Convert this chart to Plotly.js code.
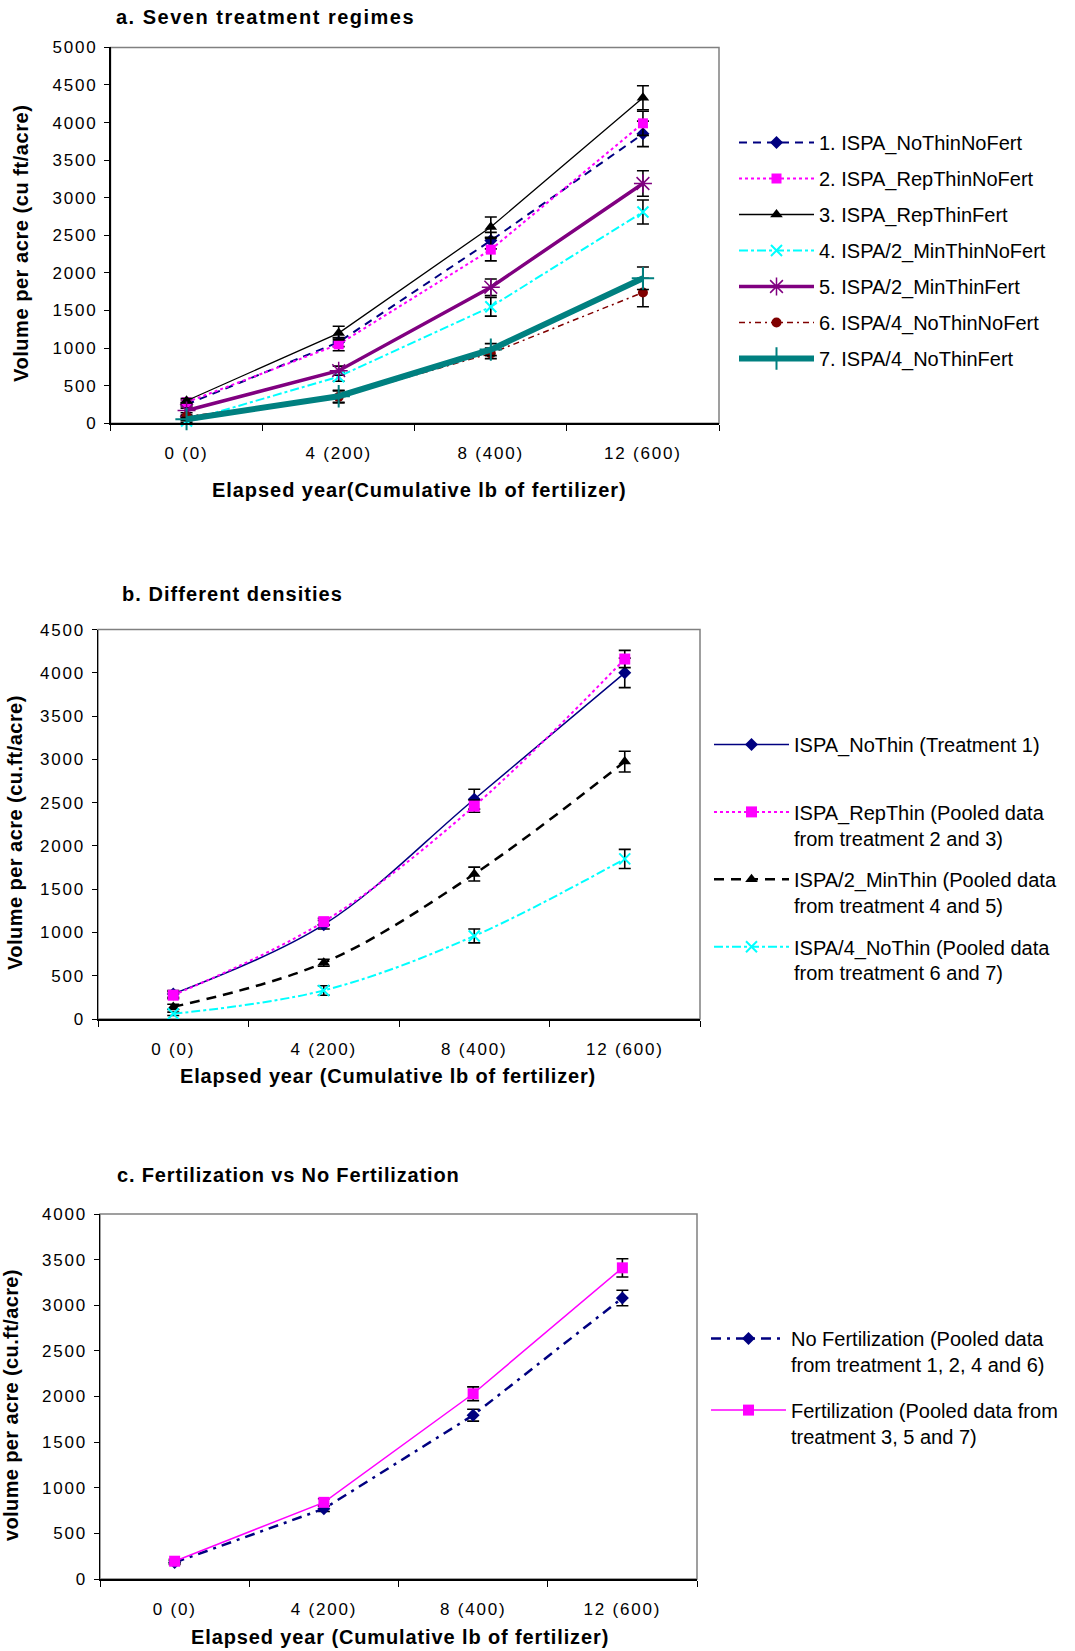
<!DOCTYPE html>
<html><head><meta charset="utf-8">
<script src="https://cdn.plot.ly/plotly-3.0.1.min.js"></script>
<style>
html,body{margin:0;padding:0;background:#fff;}
#chart{width:1075px;height:1651px;}
#chart .xtick text, #chart .ytick text, #chart .x2tick text, #chart .y2tick text, #chart .x3tick text, #chart .y3tick text{letter-spacing:1.8px;}
</style>
</head><body><div id="chart"></div>
<script>
const W = 1075, H = 1651;
const categories = ['0 (0)', '4 (200)', '8 (400)', '12 (600)'];

// Panel a: seven treatment regimes
const aNames = ['1. ISPA_NoThinNoFert', '2. ISPA_RepThinNoFert', '3. ISPA_RepThinFert',
  '4. ISPA/2_MinThinNoFert', '5. ISPA/2_MinThinFert', '6. ISPA/4_NoThinNoFert', '7. ISPA/4_NoThinFert'];
const a1 = [250, 1080, 2430, 3850], a1err = [30, 60, 110, 170];
const a2 = [280, 1050, 2310, 3990], a2err = [30, 85, 150, 160];
const a3 = [300, 1200, 2610, 4330], a3err = [30, 90, 135, 160];
const a4 = [30, 620, 1550, 2810],  a4err = [20, 60, 125, 160];
const a5 = [170, 700, 1810, 3190], a5err = [30, 60, 110, 170];
const a6 = [90, 350, 930, 1740],   a6err = [20, 80, 70, 190];
const a7 = [55, 360, 980, 1930],   a7err = [20, 80, 80, 150];

// Panel b: different densities
const bNames = ['ISPA_NoThin (Treatment 1)<br>&#160;', 'ISPA_RepThin (Pooled data<br>from treatment 2 and 3)',
  'ISPA/2_MinThin (Pooled data<br>from treatment 4 and 5)', 'ISPA/4_NoThin (Pooled data<br>from treatment 6 and 7)'];
const b1 = [290, 1090, 2540, 4000], b1err = [40, 50, 115, 170];
const b2 = [275, 1125, 2460, 4160], b2err = [40, 40, 70, 100];
const b3 = [140, 650, 1675, 2975],  b3err = [30, 40, 80, 120];
const b4 = [60, 330, 960, 1850],    b4err = [20, 55, 80, 110];

// Panel c: fertilization vs no fertilization
const cNames = ['No Fertilization (Pooled data<br>from treatment 1, 2, 4 and 6)',
  'Fertilization (Pooled data from<br>treatment 3, 5 and 7)'];
const c1 = [180, 770, 1795, 3080], c1err = [20, 30, 65, 85];
const c2 = [195, 840, 2030, 3410], c2err = [20, 40, 75, 100];

const FONT = 'Liberation Sans, Arial, sans-serif';
const TICKFS = 17, LEGFS = 20, TFS = 20;

function tr(name, y, err, xa, ya, leg, grp, color, dash, lw, sym, msize, shape, mline) {
  return {
    type: 'scatter', mode: 'lines+markers', name: name, x: categories, y: y,
    xaxis: xa, yaxis: ya, legend: leg, legendgroup: grp,
    line: {color: color, dash: dash, width: lw, shape: shape || 'linear'},
    marker: {color: color, symbol: sym, size: msize, line: {color: color, width: mline || 0}},
    error_y: {type: 'data', array: err, visible: true, color: '#000', thickness: 1.6, width: 6},
    cliponaxis: false
  };
}

const data = [
  tr(aNames[0], a1, a1err, 'x', 'y', 'legend', 'a1', '#000080', '8px,6px', 2, 'diamond', 10),
  tr(aNames[1], a2, a2err, 'x', 'y', 'legend', 'a2', '#FF00FF', 'dot', 2, 'square', 10),
  tr(aNames[2], a3, a3err, 'x', 'y', 'legend', 'a3', '#000000', 'solid', 1.3, 'triangle-up', 11),
  tr(aNames[3], a4, a4err, 'x', 'y', 'legend', 'a4', '#00FFFF', 'dashdot', 2, 'x-thin-open', 11, null, 2),
  tr(aNames[4], a5, a5err, 'x', 'y', 'legend', 'a5', '#800080', 'solid', 3.5, 'asterisk-open', 15, null, 1.5),
  tr(aNames[5], a6, a6err, 'x', 'y', 'legend', 'a6', '#800000', '6px,4px,2px,4px', 1.5, 'circle', 10),
  tr(aNames[6], a7, a7err, 'x', 'y', 'legend', 'a7', '#008080', 'solid', 6, 'cross-thin-open', 16, null, 2),

  tr(bNames[0], b1, b1err, 'x2', 'y2', 'legend2', 'b1', '#000080', 'solid', 1.5, 'diamond', 10, 'spline'),
  tr(bNames[1], b2, b2err, 'x2', 'y2', 'legend2', 'b2', '#FF00FF', 'dot', 2, 'square', 11, 'spline'),
  tr(bNames[2], b3, b3err, 'x2', 'y2', 'legend2', 'b3', '#000000', '10px,7px', 2.5, 'triangle-up', 11, 'spline'),
  tr(bNames[3], b4, b4err, 'x2', 'y2', 'legend2', 'b4', '#00FFFF', 'dashdot', 2, 'x-thin-open', 11, 'spline', 2),

  tr(cNames[0], c1, c1err, 'x3', 'y3', 'legend3', 'c1', '#000080', '10px,6px,3px,6px', 2.5, 'diamond', 10),
  tr(cNames[1], c2, c2err, 'x3', 'y3', 'legend3', 'c2', '#FF00FF', 'solid', 1.5, 'square', 11)
];

const px = v => v / W, py = v => 1 - v / H;

function xax(dom, anchor) {
  return {domain: dom, anchor: anchor, type: 'category', range: [-0.5, 3.5], tickson: 'boundaries',
    ticks: 'outside', ticklen: 6, tickcolor: '#000', tickwidth: 1, showline: true, linecolor: '#000', linewidth: 1.5,
    showgrid: false, zeroline: false, ticklabelstandoff: 14,
    tickfont: {family: FONT, size: TICKFS, color: '#000'}, fixedrange: true};
}
function yax(dom, anchor, max) {
  return {domain: dom, anchor: anchor, range: [0, max], dtick: 500, tick0: 0,
    ticks: 'outside', ticklen: 5, tickcolor: '#000', tickwidth: 1, showline: true, linecolor: '#000', linewidth: 1.5,
    showgrid: false, zeroline: false, ticklabelstandoff: 3,
    tickfont: {family: FONT, size: TICKFS, color: '#000'}, fixedrange: true};
}

const domA = {x: [px(110.5), px(719)], y: [py(423.3), py(47.4)]};
const domB = {x: [px(98), px(700)], y: [py(1019), py(629.6)]};
const domC = {x: [px(100), px(697)], y: [py(1579), py(1214)]};

function box(d) {
  return {type: 'rect', xref: 'paper', yref: 'paper', x0: d.x[0], x1: d.x[1], y0: d.y[0], y1: d.y[1],
    line: {color: '#808080', width: 1.5}, layer: 'below'};
}
function ann(text, ls, x, y, opts) {
  return Object.assign({text: '<span style="letter-spacing:' + ls + 'px"><b>' + text + '</b></span>',
    xref: 'paper', yref: 'paper', x: px(x), y: py(y), showarrow: false,
    xanchor: 'center', yanchor: 'middle', font: {family: FONT, size: TFS, color: '#000'}}, opts || {});
}

const legBase = {font: {family: FONT, size: LEGFS, color: '#000'}, bgcolor: 'rgba(0,0,0,0)', borderwidth: 0,
  xanchor: 'left', yanchor: 'top', traceorder: 'grouped', valign: 'top', itemclick: false, itemdoubleclick: false,
  itemwidth: 75};

const layout = {
  width: W, height: H, margin: {l: 0, r: 0, t: 0, b: 0}, paper_bgcolor: '#fff', plot_bgcolor: 'rgba(0,0,0,0)',
  font: {family: FONT, size: LEGFS, color: '#000'}, showlegend: true,
  xaxis: xax(domA.x, 'y'), yaxis: yax(domA.y, 'x', 5000),
  xaxis2: xax(domB.x, 'y2'), yaxis2: yax(domB.y, 'x2', 4500),
  xaxis3: xax(domC.x, 'y3'), yaxis3: yax(domC.y, 'x3', 4000),
  legend: Object.assign({}, legBase, {x: px(734), y: py(123), tracegroupgap: 7}),
  legend2: Object.assign({}, legBase, {x: px(709), y: py(725), tracegroupgap: 12.4}),
  legend3: Object.assign({}, legBase, {x: px(706), y: py(1319), tracegroupgap: 16.6}),
  shapes: [box(domA), box(domB), box(domC)],
  annotations: [
    ann('a. Seven treatment regimes', 1.5, 114, 17, {xanchor: 'left'}),
    ann('Volume per acre (cu ft/acre)', 0.55, 21, 244, {textangle: -90}),
    ann('Elapsed year(Cumulative lb of fertilizer)', 0.95, 419, 490),
    ann('b. Different densities', 1.05, 120, 594, {xanchor: 'left'}),
    ann('Volume per acre (cu.ft/acre)', 0.46, 15, 833, {textangle: -90}),
    ann('Elapsed year (Cumulative lb of fertilizer)', 0.83, 388, 1076),
    ann('c. Fertilization vs No Fertilization', 0.84, 115, 1175, {xanchor: 'left'}),
    ann('volume per acre (cu.ft/acre)', 0.38, 11, 1405, {textangle: -90}),
    ann('Elapsed year (Cumulative lb of fertilizer)', 0.88, 400, 1637)
  ]
};

Plotly.newPlot('chart', data, layout, {displayModeBar: false, staticPlot: true});
</script></body></html>
